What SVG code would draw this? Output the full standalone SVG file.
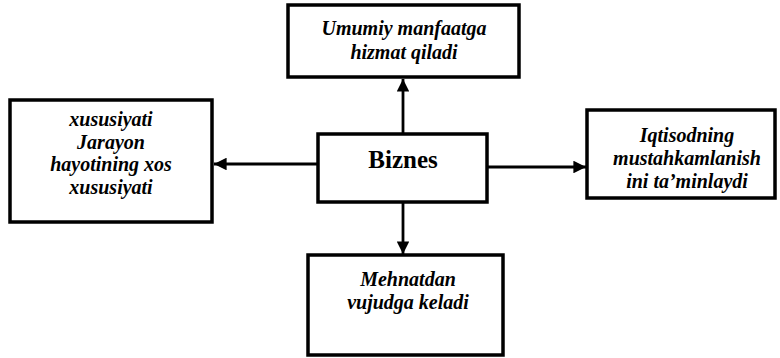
<svg xmlns="http://www.w3.org/2000/svg" width="780" height="358" viewBox="0 0 780 358">
<defs>
<marker id="ah" viewBox="0 0 10 10" refX="10" refY="5" markerWidth="4.5" markerHeight="4.5" orient="auto" markerUnits="strokeWidth">
<path d="M0,0 L10,5 L0,10 z" fill="#000"/>
</marker>
<style>
.box{fill:#fff;stroke:#000;stroke-width:3.5}
.t{font-family:"Liberation Serif","DejaVu Serif",serif;font-weight:bold;font-style:italic;font-size:20px;text-anchor:middle;fill:#000}
.c{font-family:"Liberation Serif",serif;font-weight:bold;font-size:25px;text-anchor:middle;fill:#000}
.e{stroke:#000;stroke-width:2.8;fill:none;marker-end:url(#ah)}
</style>
</defs>
<rect width="780" height="358" fill="#fff"/>
<g id="connectors">
<line class="e" x1="403" y1="134" x2="403" y2="79"/>
<line class="e" x1="318" y1="164" x2="214" y2="164"/>
<line class="e" x1="487" y1="167" x2="586" y2="167"/>
<line class="e" x1="403" y1="203" x2="403" y2="254"/>
</g>
<g id="top">
<rect class="box" x="288" y="5" width="231" height="72"/>
<text class="t" x="404" y="35">Umumiy manfaatga</text>
<text class="t" x="404" y="59">hizmat qiladi</text>
</g>
<g id="left">
<rect class="box" x="10" y="100" width="202" height="122"/>
<text class="t" x="111" y="126">xususiyati</text>
<text class="t" x="111" y="148.5">Jarayon</text>
<text class="t" x="111" y="171">hayotining xos</text>
<text class="t" x="111" y="193.5">xususiyati</text>
</g>
<g id="center">
<rect class="box" x="318" y="134" width="169" height="68"/>
<text class="c" x="403" y="168">Biznes</text>
</g>
<g id="right">
<rect class="box" x="587" y="110" width="188" height="88"/>
<text class="t" x="687" y="142">Iqtisodning</text>
<text class="t" x="687" y="165">mustahkamlanish</text>
<text class="t" x="687" y="188">ini ta’minlaydi</text>
</g>
<g id="bottom">
<rect class="box" x="308" y="255" width="195" height="100"/>
<text class="t" x="408" y="286">Mehnatdan</text>
<text class="t" x="408" y="309">vujudga keladi</text>
</g>
</svg>
